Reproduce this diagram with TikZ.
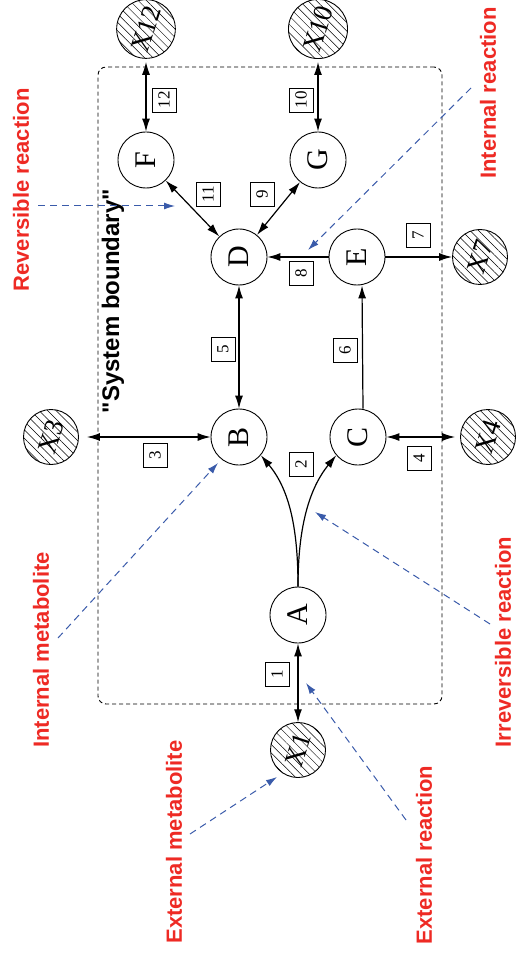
\documentclass[tikz,border=0pt]{standalone}
\usepackage{fontspec}
\setmainfont{Liberation Serif}
\setsansfont{Liberation Sans}
\newfontfamily\sysfont{Liberation Sans}[Ligatures=ResetAll]
\usepackage{graphicx}
\usetikzlibrary{arrows.meta,patterns.meta}
\definecolor{lblred}{HTML}{EE2A24}
\definecolor{lblblue}{HTML}{3A5BAA}
\begin{document}
\begin{tikzpicture}[x=1pt,y=-1pt,
 met/.style={circle,draw,line width=0.9pt,minimum size=56pt,inner sep=0pt,font=\fontsize{30}{30}\selectfont},
 ext/.style={circle,draw,line width=0.9pt,minimum size=55pt,inner sep=0pt,font=\fontsize{27}{27}\selectfont,pattern={Lines[angle=-45,distance=6pt,line width=0.5pt]}},
 num/.style={draw,line width=0.6pt,minimum size=24pt,inner sep=0pt,font=\fontsize{17}{17}\selectfont},
 rx/.style={line width=1.2pt,-{Latex[length=13pt,width=8pt]}},
 rxx/.style={line width=1.2pt,{Latex[length=13pt,width=8pt]}-{Latex[length=13pt,width=8pt]}},
 note/.style={text=lblred,font=\sffamily\bfseries\fontsize{22}{22}\selectfont,rotate=90,inner sep=0pt},
 ptr/.style={lblblue,line width=1pt,dash pattern=on 7pt off 5pt,-{Latex[length=11pt,width=7pt]}},
 bound/.style={draw,line width=0.9pt,dash pattern=on 4pt off 3pt,rounded corners=8pt}
]
\useasboundingbox (0,0) rectangle (516,957);
% boundary
\node[bound,minimum width=344pt,minimum height=637pt,inner sep=0pt] (sys) at (270,385.5) {};
\node[font=\sysfont\bfseries\fontsize{24}{24}\selectfont,rotate=90,inner sep=0pt] (sysl) at (113,301) {"System boundary"};
% metabolites
\node[met] (A) at (298,615) {\rotatebox{90}{A}};
\node[met] (B) at (239,437) {\rotatebox{90}{B}};
\node[met] (C) at (358,437) {\rotatebox{90}{C}};
\node[met] (D) at (239,257) {\rotatebox{90}{D}};
\node[met] (E) at (357,257) {\rotatebox{90}{E}};
\node[met] (F) at (146,160) {\rotatebox{90}{F}};
\node[met] (G) at (318,160) {\rotatebox{90}{G}};
\node[ext] (X1) at (298,750) {\rotatebox{72}{X1}};
\node[ext] (X3) at (51,437) {\rotatebox{72}{X3}};
\node[ext] (X4) at (488,437) {\rotatebox{72}{X4}};
\node[ext] (X7) at (480,257) {\rotatebox{72}{X7}};
\node[ext] (X10) at (318,29) {\rotatebox{72}{X10}};
\node[ext] (X12) at (146,29) {\rotatebox{72}{X12}};
% reactions
\draw[rxx] (X1) -- (A);
\draw[rx] (A.north) .. controls (298,530) and (290,490) .. (B.-40);
\draw[rx] (A.north) .. controls (298,530) and (308,490) .. (C.220);
\draw[rxx,shorten <=8pt] (X3) -- (B);
\draw[rxx,shorten >=5pt] (C) -- (X4);
\draw[rxx] (D) -- (B);
\draw[rx] ([xshift=5pt]C.north) -- ([xshift=5pt]E.south);
\draw[rx] (E) -- (X7);
\draw[rx] (E) -- (D);
\draw[rxx] (D) -- (G);
\draw[rxx,shorten >=3pt] (G) -- (X10);
\draw[rxx] (D) -- (F);
\draw[rxx,shorten >=3pt] (F) -- (X12);
% reaction numbers
\node[num] (l1) at (277,674) {\rotatebox{90}{1}};
\node[num] (l2) at (301,464) {\rotatebox{90}{2}};
\node[num] (l3) at (155,455) {\rotatebox{90}{3}};
\node[num] (l4) at (419,458) {\rotatebox{90}{4}};
\node[num] (l5) at (223,349) {\rotatebox{90}{5}};
\node[num] (l6) at (345,350) {\rotatebox{90}{6}};
\node[num] (l7) at (418,235) {\rotatebox{90}{7}};
\node[num] (l8) at (301,273) {\rotatebox{90}{8}};
\node[num] (l9) at (262,194) {\rotatebox{90}{9}};
\node[num] (l10) at (301,100) {\rotatebox{90}{10}};
\node[num] (l11) at (208,194) {\rotatebox{90}{11}};
\node[num] (l12) at (164,100) {\rotatebox{90}{12}};
% annotations
\node[note] (nrev) at (21,190) {Reversible reaction};
\node[note] (nintr) at (488,93) {Internal reaction};
\node[note] (nintm) at (41,650) {Internal metabolite};
\node[note] (nirr) at (503,642) {Irreversible reaction};
\node[note] (nextm) at (174,842) {External metabolite};
\node[note] (nextr) at (424,855) {External reaction};
\coordinate (prev0) at (38,206); \coordinate (prev1) at (175,206);
\coordinate (pir0) at (471,88); \coordinate (pir1) at (308,250);
\coordinate (pim0) at (58,638); \coordinate (pim1) at (218,463);
\coordinate (pirr0) at (490,624); \coordinate (pirr1) at (315,512);
\coordinate (pem0) at (190,834); \coordinate (pem1) at (277,777);
\coordinate (per0) at (406,820); \coordinate (per1) at (306,683);
\draw[ptr] (prev0) -- (prev1);
\draw[ptr] (pir0) -- (pir1);
\draw[ptr] (pim0) -- (pim1);
\draw[ptr] (pirr0) -- (pirr1);
\draw[ptr] (pem0) -- (pem1);
\draw[ptr] (per0) -- (per1);
\end{tikzpicture}
\end{document}
